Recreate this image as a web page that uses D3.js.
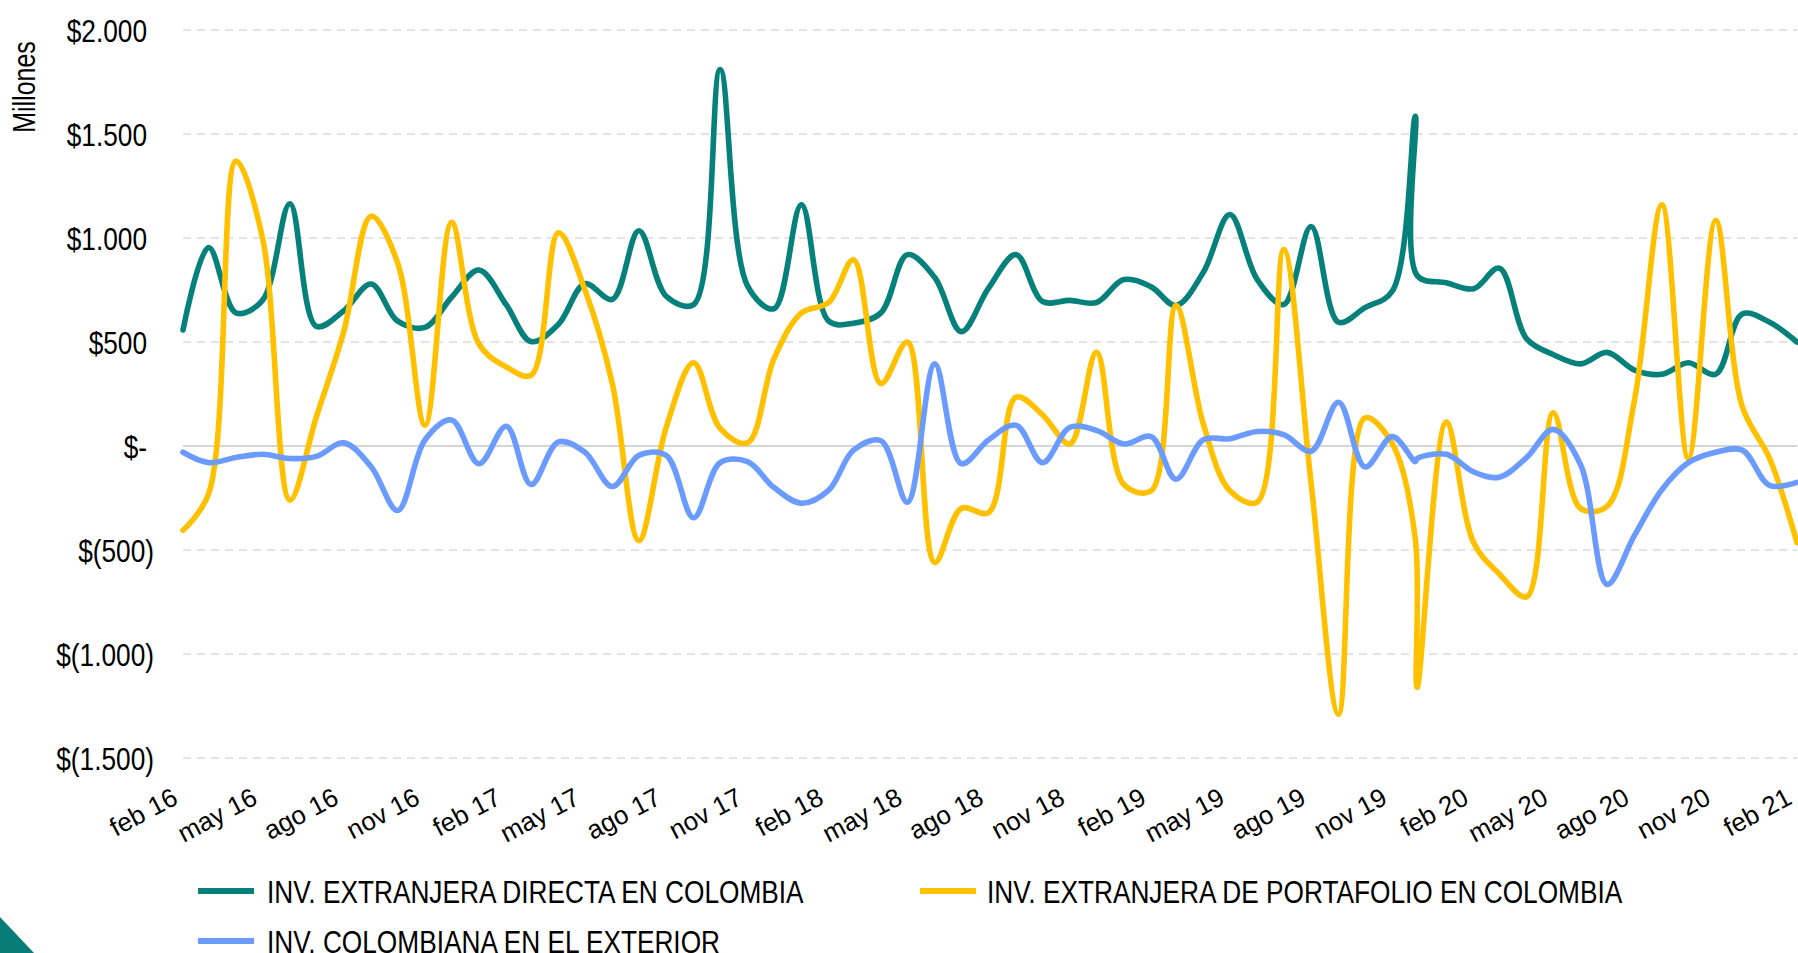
<!DOCTYPE html>
<html lang="es">
<head>
<meta charset="utf-8">
<script src="https://cdn.jsdelivr.net/npm/d3@7"></script>
<style>
  html, body { margin: 0; padding: 0; background: #ffffff; overflow: hidden; }
  svg { display: block; }
  text { font-family: "Liberation Sans", Arial, sans-serif; fill: #000; }
</style>
</head>
<body>
<svg id="grafico" width="1798" height="953"></svg>
<script>
// Fechas de cada registro mensual (diciembre 2019 aparece con dos registros cercanos)
const fechas = [
  "2016-02-01","2016-03-01","2016-04-01","2016-05-01","2016-06-01","2016-07-01","2016-08-01","2016-09-01","2016-10-01","2016-11-01",
  "2016-12-01","2017-01-01","2017-02-01","2017-03-01","2017-04-01","2017-05-01","2017-06-01","2017-07-01","2017-08-01","2017-09-01",
  "2017-10-01","2017-11-01","2017-12-01","2018-01-01","2018-02-01","2018-03-01","2018-04-01","2018-05-01","2018-06-01","2018-07-01",
  "2018-08-01","2018-09-01","2018-10-01","2018-11-01","2018-12-01","2019-01-01","2019-02-01","2019-03-01","2019-04-01","2019-05-01",
  "2019-06-01","2019-07-01","2019-08-01","2019-09-01","2019-10-01","2019-11-01","2019-11-27","2019-11-29",
  "2020-01-01","2020-02-01","2020-03-01","2020-04-01","2020-05-01","2020-06-01","2020-07-01","2020-08-01","2020-09-01","2020-10-01",
  "2020-11-01","2020-12-01","2021-01-01","2021-02-01"
];

// Millones de USD
const inversionDirecta = [
  558, 954, 640, 700, 1165, 575, 650, 779, 600, 570,
  715, 846, 678, 502, 585, 780, 705, 1035, 720, 680,
  1810, 770, 660, 1160, 600, 590, 640, 920, 810, 550,
  760, 920, 695, 700, 690, 800, 765, 675, 835, 1113,
  800, 680, 1055, 595, 665, 745, 1585, 820,
  785, 756, 855, 515, 440, 395, 450, 365, 345, 400, 345, 635, 595, 500
];
const inversionPortafolio = [
  -405, -230, 1370, 1000, -260, 140, 550, 1105, 880, 100,
  1075, 490, 380, 340, 1025, 750, 300, -455, 90, 400,
  85, 15, 420, 640, 690, 895, 300, 500, -560, -300,
  -320, 235, 150, 10, 450, -185, -215, 675, 105, -215,
  -270, 945, -180, -1290, 135, 10, -450, -1160,
  115, -465, -615, -725, 160, -300, -290, 220, 1160, -60, 1085, 190, -60, -465
];
const inversionExterior = [
  -30, -80, -55, -40, -60, -50, 15, -100, -310, 30,
  125, -85, 95, -185, 20, -30, -195, -45, -45, -345,
  -80, -75, -200, -275, -212, -20, 25, -270, 395, -85,
  30, 100, -80, 90, 75, 10, 45, -160, 30, 35,
  70, 55, -25, 210, -100, 45, -75, -60,
  -40, -125, -150, -55, 80, -90, -665, -430, -210, -80, -30, -20, -190, -175
];

const nombresSeries = [
  "INV. EXTRANJERA DIRECTA EN COLOMBIA",
  "INV. EXTRANJERA DE PORTAFOLIO EN COLOMBIA",
  "INV. COLOMBIANA EN EL EXTERIOR"
];
const coloresSeries = ["#06807a", "#ffc000", "#6b9bff"];

const ticksY = [2000, 1500, 1000, 500, 0, -500, -1000, -1500];
const mesesCortos = ["ene","feb","mar","abr","may","jun","jul","ago","sep","oct","nov","dic"];

// ---- escalas ----
const parseFecha = d3.utcParse("%Y-%m-%d");
const inicio = parseFecha("2016-02-01"), fin = parseFecha("2021-02-01");
const x = d3.scaleUtc().domain([inicio, fin]).range([183, 1797]);
const y = d3.scaleLinear().domain([-1500, 2000]).range([758, 30]);

const svg = d3.select("#grafico");

// comprime el ancho del texto (tipografía estrecha)
function estrechar(sel, factor) {
  sel.each(function () {
    const w = this.getComputedTextLength();
    d3.select(this).attr("textLength", w * factor).attr("lengthAdjust", "spacingAndGlyphs");
  });
}

// ---- líneas de cuadrícula ----
const grid = svg.append("g");
grid.selectAll("line").data(ticksY).join("line")
  .attr("x1", x.range()[0]).attr("x2", x.range()[1])
  .attr("y1", d => y(d)).attr("y2", d => y(d))
  .attr("stroke", d => d === 0 ? "#c8c8c8" : "#d9d9d9")
  .attr("stroke-width", d => d === 0 ? 1.6 : 1.4)
  .attr("stroke-dasharray", d => d === 0 ? null : "8,6");

// ---- eje Y ----
const fmtMiles = d3.formatLocale({ decimal: ",", thousands: ".", grouping: [3], currency: ["$", ""] }).format(",d");
function formatoContable(v) {
  if (v === 0) return "$-";
  if (v < 0) return "$(" + fmtMiles(-v) + ")";
  return "$" + fmtMiles(v);
}
const ejeY = svg.append("g").call(
  d3.axisLeft(y).tickValues(ticksY).tickFormat(formatoContable).tickSize(0).tickPadding(0)
);
ejeY.select(".domain").remove();
ejeY.attr("font-family", null).attr("font-size", null);
ejeY.selectAll("text")
  .attr("x", d => d < 0 ? 154 : 147)
  .attr("dy", "0.35em")
  .attr("fill", "#000")
  .style("font-size", "32px")
  .call(estrechar, 0.82);

svg.append("text")
  .attr("transform", "translate(35,87) rotate(-90)")
  .attr("text-anchor", "middle")
  .style("font-size", "32px")
  .text("Millones")
  .call(estrechar, 0.78);

// ---- eje X: una etiqueta cada tres meses desde feb 16 ----
const localeES = d3.timeFormatLocale({
  dateTime: "%x, %X", date: "%d/%m/%Y", time: "%H:%M:%S", periods: ["AM", "PM"],
  days: ["domingo","lunes","martes","miércoles","jueves","viernes","sábado"],
  shortDays: ["dom","lun","mar","mié","jue","vie","sáb"],
  months: ["enero","febrero","marzo","abril","mayo","junio","julio","agosto","septiembre","octubre","noviembre","diciembre"],
  shortMonths: mesesCortos
});
const fmtMes = localeES.utcFormat("%b %y");
const ticksX = d3.utcMonth.range(inicio, d3.utcMonth.offset(fin, 1), 3);

const ejeX = svg.append("g").attr("transform", "translate(-4,803)")
  .call(d3.axisBottom(x).tickValues(ticksX).tickFormat(fmtMes).tickSize(0).tickPadding(0));
ejeX.select(".domain").remove();
ejeX.attr("font-family", null).attr("font-size", null);
ejeX.selectAll("text")
  .attr("y", 0).attr("dy", 0)
  .attr("text-anchor", "end")
  .attr("transform", "rotate(-28)")
  .attr("fill", "#000")
  .style("font-size", "26px");

// ---- series ----
const fechasD = fechas.map(parseFecha);
const series = [inversionDirecta, inversionPortafolio, inversionExterior];
const linea = d3.line()
  .x((d, i) => x(fechasD[i]))
  .y(d => y(d))
  .curve(d3.curveCatmullRom.alpha(0.5));

svg.append("g").selectAll("path").data(series).join("path")
  .attr("d", d => linea(d))
  .attr("fill", "none")
  .attr("stroke", (d, i) => coloresSeries[i])
  .attr("stroke-width", 5.6)
  .attr("stroke-linejoin", "round")
  .attr("stroke-linecap", "round");

// ---- leyenda ----
const posLeyenda = [[198, 891], [920, 891], [198, 941]];
const leyenda = svg.append("g").selectAll("g").data(nombresSeries).join("g")
  .attr("transform", (d, i) => `translate(${posLeyenda[i][0]},${posLeyenda[i][1]})`);
leyenda.append("line")
  .attr("x1", 0).attr("x2", 56).attr("y1", 0).attr("y2", 0)
  .attr("stroke", (d, i) => coloresSeries[i])
  .attr("stroke-width", 6);
leyenda.append("text")
  .attr("x", (d, i) => i === 1 ? 67 : 69)
  .attr("dy", "0.36em")
  .style("font-size", "32px")
  .text(d => d)
  .call(estrechar, 0.82);

// ---- triángulo decorativo ----
svg.append("path")
  .attr("d", "M0,917 L34,953 L0,953 Z")
  .attr("fill", "#087d77");
</script>
</body>
</html>
